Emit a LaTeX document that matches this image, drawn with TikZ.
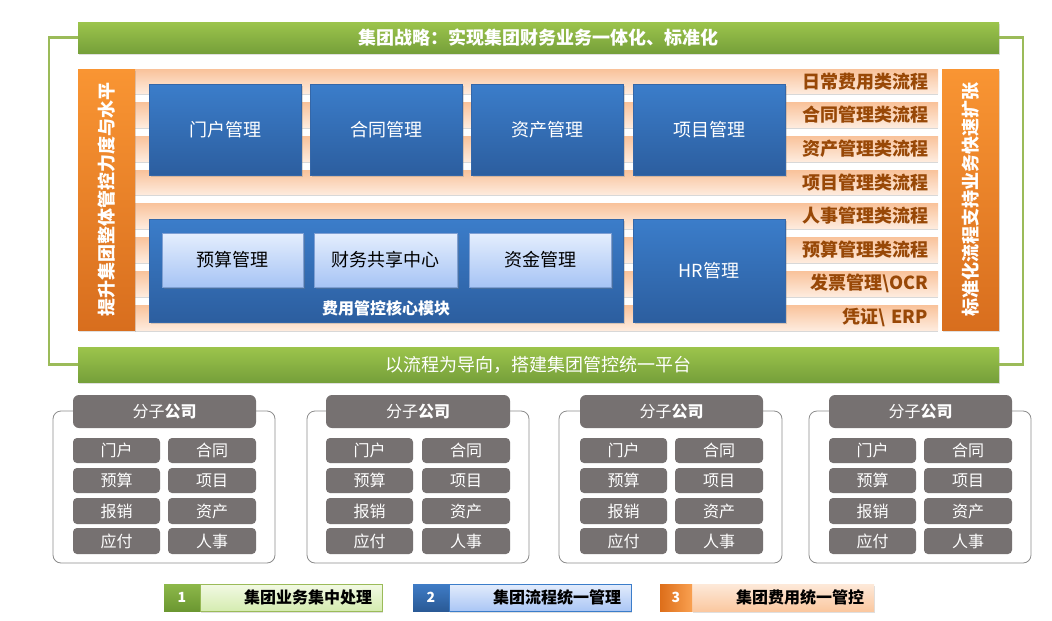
\documentclass[tikz,border=0pt]{standalone}
\usepackage{fontspec}
\setmainfont{Noto Sans CJK SC}
\usetikzlibrary{shadows}
\definecolor{grnT}{HTML}{9CC44C}
\definecolor{grnB}{HTML}{76A03A}
\definecolor{gline}{HTML}{9BBB59}
\definecolor{orT}{HTML}{F99533}
\definecolor{orB}{HTML}{D86E1E}
\definecolor{blueT}{HTML}{3B7DCA}
\definecolor{blueB}{HTML}{2C5E9F}
\definecolor{blueE}{HTML}{3567A8}
\definecolor{lbT}{HTML}{E4EEFD}
\definecolor{lbB}{HTML}{A7C4F5}
\definecolor{lbE}{HTML}{7E9FD3}
\definecolor{grayC}{HTML}{767171}
\definecolor{stripT}{HTML}{F9C29A}
\definecolor{stripB}{HTML}{FEEBDD}
\definecolor{stripTxt}{HTML}{984807}
\definecolor{nGT}{HTML}{8DB84A}
\definecolor{nGB}{HTML}{6B9731}
\definecolor{bGT}{HTML}{F2F9E4}
\definecolor{bGB}{HTML}{D5ECB0}
\definecolor{nBT}{HTML}{3F7CC6}
\definecolor{nBB}{HTML}{2A5A96}
\definecolor{bBT}{HTML}{E3ECFC}
\definecolor{bBB}{HTML}{AAC6F5}
\definecolor{nOL}{HTML}{DD6E1A}
\definecolor{nOR}{HTML}{F9A050}
\definecolor{bOT}{HTML}{FDE9D9}
\definecolor{bOB}{HTML}{FBC8A0}
\newcommand\myfs[1]{\fontsize{#1}{#1}\selectfont}
\newcommand\pbox[7]{\node[#1,minimum width={((#4)-(#2))*1pt},minimum height={((#5)-(#3))*1pt}] (#6) at ({((#2)+(#4))/2},{((#3)+(#5))/2}) {#7};}
\begin{document}
\begin{tikzpicture}[x=1pt,y=-1pt,
  every node/.style={inner sep=0pt,outer sep=0pt},
  gbar/.style={top color=grnT,bottom color=grnB,draw=none,text=white,font=\myfs{18},
    drop shadow={shadow xshift=1pt,shadow yshift=-2pt,opacity=0.25}},
  gconn/.style={draw=gline,line width=2.4pt},
  obar/.style={top color=orT,bottom color=orB,draw=none,
    drop shadow={shadow xshift=1pt,shadow yshift=-1.5pt,opacity=0.25}},
  stripbox/.style={top color=stripT,bottom color=stripB,draw=none,inner xsep=10pt,
    text width=783pt,align=right,text=stripTxt,font=\bfseries\myfs{18},
    drop shadow={shadow xshift=0pt,shadow yshift=-1.5pt,opacity=0.3}},
  bluebox/.style={top color=blueT,bottom color=blueB,draw=blueE,line width=0.6pt,
    text=white,font=\myfs{18},
    drop shadow={shadow xshift=1.5pt,shadow yshift=-1.5pt,opacity=0.3}},
  lightbox/.style={top color=lbT,bottom color=lbB,draw=lbE,line width=0.6pt,
    text=black,font=\myfs{18},
    drop shadow={shadow xshift=1.5pt,shadow yshift=-1.5pt,opacity=0.3}},
  outerbox/.style={draw=black!45,line width=0.8pt,rounded corners=8pt,fill=white},
  gtitle/.style={fill=grayC,rounded corners=6pt,text=white,font=\myfs{16}},
  gitem/.style={fill=grayC,rounded corners=4pt,text=white,font=\myfs{16}},
  legnum/.style={draw=none,text=white,font=\bfseries\myfs{14}},
  legbody/.style={inner xsep=10pt,align=right,text=black,font=\bfseries\myfs{16},
    drop shadow={shadow xshift=1pt,shadow yshift=-1.5pt,opacity=0.25}}
]
\fill[white] (0,0) rectangle (1052,621);
\useasboundingbox (0,0) rectangle (1052,621);

% green bars
\pbox{gbar,font=\bfseries\myfs{18}}{78}{22}{999}{53}{gtop}{集团战略：实现集团财务业务一体化、标准化}
\pbox{gbar}{78}{347}{999}{382}{gbot}{以流程为导向，搭建集团管控统一平台}
\draw[gconn] (gtop.west) -- ++(-29,0) |- (gbot.west);
\draw[gconn] (gtop.east) -- ++(24,0) |- (gbot.east);

% strips
\foreach \ya/\yb/\nm/\tx in {69/93.5/s1/日常费用类流程, 102.5/127/s2/合同管理类流程,
  136/161/s3/资产管理类流程, 170/194.5/s4/项目管理类流程, 203/228/s5/人事管理类流程,
  237/262/s6/预算管理类流程, 271/296/s7/发票管理\textbackslash OCR, 305/330/s8/凭证\textbackslash{} ERP}
  {\node[stripbox,minimum height={(\yb-\ya)*1pt}] (\nm) at (536.5,{(\ya+\yb)/2}) {\tx};}

% orange side bars
\pbox{obar,label={[rotate=90,text=white,font=\bfseries\myfs{18}]center:提升集团整体管控力度与水平}}{78}{69}{135}{330}{lbar}{}
\pbox{obar,label={[rotate=90,text=white,font=\bfseries\myfs{18}]center:标准化流程支持业务快速扩张}}{942}{69}{999}{330}{rbar}{}

% blue boxes
\pbox{bluebox}{149}{84}{301}{175}{mh}{门户管理}
\pbox{bluebox}{310}{84}{462}{175}{ht}{合同管理}
\pbox{bluebox}{471}{84}{623}{175}{zc}{资产管理}
\pbox{bluebox}{633}{84}{785}{175}{xm}{项目管理}
\pbox{bluebox}{149}{219}{623}{322}{core}{}
\pbox{bluebox}{633}{219}{785}{322}{hr}{HR管理}
\pbox{lightbox}{162}{233}{303}{287}{ys}{预算管理}
\pbox{lightbox}{314}{233}{457}{287}{cw}{财务共享中心}
\pbox{lightbox}{469}{233}{611}{287}{zj}{资金管理}
\node[text=white,font=\bfseries\myfs{16}] (coreLbl) at (386,308) {费用管控核心模块};

% subsidiary panels
\foreach \i/\ox/\oX/\tx/\tX in {1/53/275/73/256, 2/307/529/326/510, 3/559/782/580/763, 4/809/1031/829/1012}{
  \pbox{outerbox}{\ox}{411}{\oX}{563}{p\i}{}
  \pbox{gtitle}{\tx}{395}{\tX}{428}{p\i-t}{分子\textbf{公司}}
  \foreach \r/\ya/\yb/\L/\R in {1/438/463/门户/合同, 2/468/493/预算/项目, 3/498/524/报销/资产, 4/528/554/应付/人事}{
    \pbox{gitem}{\tx}{\ya}{\tx+87}{\yb}{p\i-l\r}{\L}
    \pbox{gitem}{\tX-88}{\ya}{\tX}{\yb}{p\i-r\r}{\R}
  }
}

% legend
\pbox{legbody,top color=bGT,bottom color=bGB,draw=gline,line width=0.8pt,text width=162pt}{200}{584}{382}{611}{lg1}{集团业务集中处理}
\pbox{legnum,top color=nGT,bottom color=nGB}{164}{584}{200}{611}{ln1}{1}
\pbox{legbody,top color=bBT,bottom color=bBB,draw=blueT,line width=0.8pt,text width=162pt}{449}{584}{631}{611}{lg2}{集团流程统一管理}
\pbox{legnum,top color=nBT,bottom color=nBB}{413}{584}{449}{611}{ln2}{2}
\pbox{legbody,top color=bOT,bottom color=bOB,draw=none,text width=162pt}{692}{584}{874}{611}{lg3}{集团费用统一管控}
\pbox{legnum,left color=nOL,right color=nOR}{660}{584}{692}{611}{ln3}{3}
\end{tikzpicture}
\end{document}
